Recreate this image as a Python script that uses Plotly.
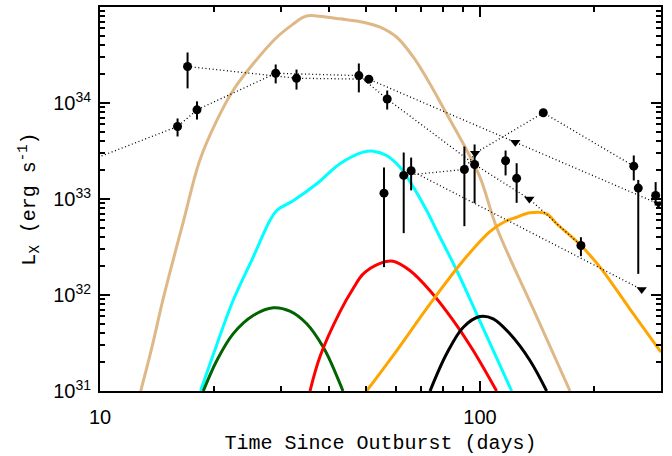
import plotly.graph_objects as go

# ---------------- observations (days, erg/s) ----------------
# each source: time, luminosity, lower / upper error bound, upper-limit flag
A_t  = [7.0, 16.0, 18.0, 29.0, 48.0, 57.0, 96.8, 134.9, 184.4]
A_L  = [1.6e33, 5.69e33, 8.49e33, 2.04e34, 1.93e34, 1.10e34, 2.29e33, 1.00e33, 3.28e32]
A_lo = [1.6e33, 4.48e33, 6.73e33, 1.60e34, 1.29e34, 8.55e33, 9.04e32, 1.00e33, 2.54e32]
A_hi = [1.6e33, 6.90e33, 1.04e34, 2.52e34, 2.58e34, 1.35e34, 3.70e33, 1.00e33, 4.00e32]
A_ul = [0, 0, 0, 0, 0, 0, 0, 1, 0]

B_t  = [17.0, 32.9, 51.0, 123.9, 295.0]
B_L  = [2.40e34, 1.81e34, 1.77e34, 3.91e33, 8.91e32]
B_lo = [1.42e34, 1.38e34, 1.77e34, 3.91e33, 8.91e32]
B_hi = [3.36e34, 2.23e34, 1.77e34, 3.91e33, 8.91e32]
B_ul = [0, 0, 0, 1, 1]

C_t  = [65.9, 266.5]
C_L  = [1.97e33, 1.14e32]
C_lo = [1.23e33, 1.14e32]
C_hi = [2.70e33, 1.14e32]
C_ul = [0, 1]

D_t  = [63.0, 91.0, 97.1, 146.8, 254.0]
D_L  = [1.76e33, 2.03e33, 3.00e33, 7.91e33, 2.20e33]
D_lo = [4.41e32, 5.21e32, 3.00e33, 7.91e33, 1.56e33]
D_hi = [3.05e33, 3.52e33, 3.00e33, 7.91e33, 2.84e33]
D_ul = [0, 0, 1, 0, 0]

# unconnected detections
E_t  = [55.9, 116.8, 124.9, 261.0, 290.0]
E_L  = [1.15e33, 2.50e33, 1.64e33, 1.30e33, 1.09e33]
E_lo = [1.95e32, 1.76e33, 9.12e32, 1.66e32, 8.55e32]
E_hi = [2.13e33, 3.20e33, 2.36e33, 1.58e33, 1.50e33]
E_ul = [0, 0, 0, 0, 0]

# ---------------- model curves ----------------
tan_t = [12.8, 13.7, 14.7, 16.6, 18.3, 20.3, 22.4, 25.3, 29.2, 32.3, 34.3, 35.7, 37.9,
         42.8, 49.3, 54.6, 60.4, 66.8, 73.9, 81.7, 90.4, 100.0, 110.6, 137.9, 172.6]
tan_L = [1.0e31, 2.86e31, 9.48e31, 5.97e32, 2.52e33, 6.58e33, 1.35e34, 2.56e34, 4.84e34,
         6.68e34, 7.83e34, 8.15e34, 8.02e34, 7.53e34, 6.95e34, 6.17e34, 4.84e34, 3.00e34,
         1.58e34, 7.73e33, 3.76e33, 1.69e33, 5.08e32, 7.24e31, 1.0e31]

cyan_t = [18.4, 19.9, 22.4, 25.3, 28.0, 29.2, 32.3, 37.2, 42.8, 49.3, 52.4, 56.8, 61.6,
          66.8, 72.4, 76.9, 86.9, 98.0, 121.2]
cyan_L = [1.0e31, 2.44e31, 8.77e31, 2.48e32, 5.97e32, 7.59e32, 9.64e32, 1.44e33, 2.33e33,
          3.08e33, 3.15e33, 2.84e33, 2.14e33, 1.33e33, 7.59e32, 4.70e32, 1.80e32, 6.37e31, 1.0e31]

green_t = [18.7, 20.3, 22.4, 25.3, 28.6, 31.6, 35.0, 38.7, 40.3, 43.6]
green_L = [1.0e31, 2.08e31, 3.94e31, 6.11e31, 7.36e31, 6.78e31, 5.01e31, 2.86e31, 2.08e31, 1.0e31]

red_t = [35.7, 38.0, 42.8, 46.5, 49.3, 54.6, 59.1, 65.4, 73.9, 85.1, 96.0, 110.6]
red_L = [1.0e31, 2.33e31, 6.68e31, 1.19e32, 1.66e32, 2.14e32, 2.25e32, 1.80e32, 1.11e32,
         5.42e31, 2.64e31, 1.0e31]

orange_t = [50.3, 60.4, 73.9, 90.4, 106.2, 116.4, 124.9, 135.4, 149.8, 159.2, 184.4,
            207.0, 248.2, 299.5]
orange_L = [1.0e31, 2.64e31, 8.09e31, 2.29e32, 4.58e32, 5.83e32, 6.46e32, 7.18e32, 7.01e32,
            5.52e32, 3.28e32, 1.95e32, 7.14e31, 2.54e31]

black_t = [73.9, 81.7, 90.4, 100.0, 108.4, 119.9, 135.4, 149.8]
black_L = [1.0e31, 2.44e31, 4.62e31, 5.97e31, 5.65e31, 3.94e31, 2.08e31, 1.0e31]

# ---------------- axes ----------------
x_major = [10, 100]
x_major_text = ["10", "100"]
x_minor = [20, 30, 40, 50, 60, 70, 80, 90, 200, 300]
y_major = [1e31, 1e32, 1e33, 1e34, 1e35]
y_major_text = ["10<sup>31</sup>", "10<sup>32</sup>", "10<sup>33</sup>",
                "10<sup>34</sup>", "10<sup>35</sup>"]
y_minor = [d * 10.0 ** k for k in range(31, 35) for d in range(2, 10)]

fig = go.Figure()

models = [(tan_t, tan_L, "#DEB887"), (cyan_t, cyan_L, "#00FFFF"),
          (green_t, green_L, "#006400"), (red_t, red_L, "#FF0000"),
          (orange_t, orange_L, "#FFA500"), (black_t, black_L, "#000000")]
for t, L, c in models:
    fig.add_trace(go.Scatter(x=t, y=L, mode="lines",
                             line=dict(color=c, width=3, shape="spline", smoothing=1.0),
                             hoverinfo="skip"))

sources = [(A_t, A_L, A_lo, A_hi, A_ul, True), (B_t, B_L, B_lo, B_hi, B_ul, True),
           (C_t, C_L, C_lo, C_hi, C_ul, True), (D_t, D_L, D_lo, D_hi, D_ul, True),
           (E_t, E_L, E_lo, E_hi, E_ul, False)]

for t, L, lo, hi, ul, connect in sources:
    if connect:
        fig.add_trace(go.Scatter(x=t, y=L, mode="lines",
                                 line=dict(color="black", width=1.3, dash="1px,2.6px")))
    det = [i for i in range(len(t)) if not ul[i]]
    lim = [i for i in range(len(t)) if ul[i]]
    if det:
        fig.add_trace(go.Scatter(
            x=[t[i] for i in det], y=[L[i] for i in det], mode="markers",
            marker=dict(symbol="circle", size=9, color="black"),
            error_y=dict(type="data", symmetric=False,
                         array=[hi[i] - L[i] for i in det],
                         arrayminus=[L[i] - lo[i] for i in det],
                         color="black", thickness=2, width=0)))
    if lim:
        fig.add_trace(go.Scatter(
            x=[t[i] for i in lim], y=[L[i] for i in lim], mode="markers",
            marker=dict(symbol="triangle-down", size=9, color="black")))

axis_common = dict(showline=True, linewidth=2, linecolor="black", mirror="ticks",
                   ticks="inside", ticklen=10, tickwidth=1.5, tickcolor="black",
                   showgrid=False, zeroline=False)

fig.update_xaxes(type="log", range=[1, 2.4765], tickmode="array",
                 tickvals=x_major, ticktext=x_major_text,
                 tickfont=dict(family="Liberation Sans", size=20, color="black"),
                 ticklabelstandoff=7,
                 minor=dict(tickmode="array", tickvals=x_minor, ticks="inside", ticklen=5,
                            tickwidth=1.5, tickcolor="black", showgrid=False),
                 title=dict(text="Time Since Outburst (days)",
                            font=dict(family="Liberation Mono", size=20, color="black"),
                            standoff=8),
                 **axis_common)
fig.update_yaxes(type="log", range=[31, 35], tickmode="array",
                 tickvals=y_major, ticktext=y_major_text,
                 tickfont=dict(family="Liberation Sans", size=20, color="black"),
                 ticklabelstandoff=3,
                 minor=dict(tickmode="array", tickvals=y_minor, ticks="inside", ticklen=5,
                            tickwidth=1.5, tickcolor="black", showgrid=False),
                 title=dict(text="L<sub>X</sub> (erg s<sup>-1</sup>)",
                            font=dict(family="Liberation Mono", size=20, color="black"),
                            standoff=12),
                 **axis_common)

fig.update_layout(width=672, height=456, margin=dict(l=100, r=11, t=5, b=65),
                  plot_bgcolor="white", paper_bgcolor="white", showlegend=False)

fig.write_html("out.html")
